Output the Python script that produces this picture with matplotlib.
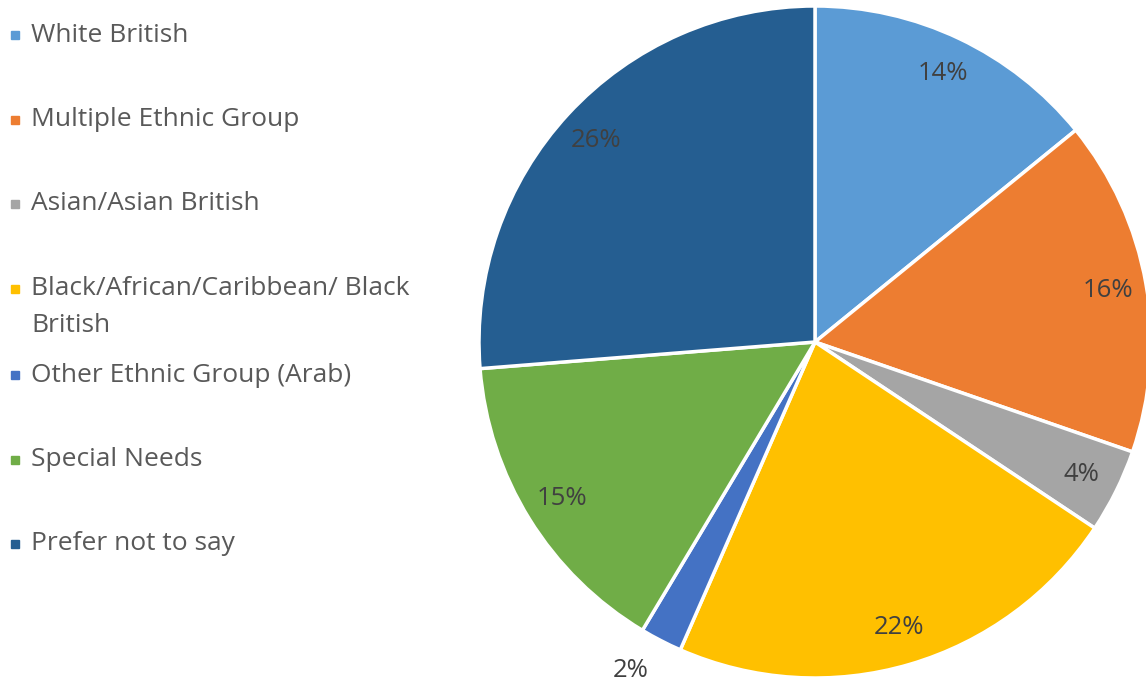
import numpy as np
import matplotlib.pyplot as plt
from matplotlib.patches import Rectangle

categories = ['White British', 'Multiple Ethnic Group', 'Asian/Asian British',
              'Black/African/Caribbean/ Black\nBritish', 'Other Ethnic Group (Arab)',
              'Special Needs', 'Prefer not to say']
values = [14, 16, 4, 22, 2, 15, 26]
colors = ['#5B9BD5', '#ED7D31', '#A5A5A5', '#FFC000', '#4472C4', '#70AD47', '#255E91']

W, H = 1146, 682
fig = plt.figure(figsize=(W / 100, H / 100), dpi=100)
ax = fig.add_axes([0, 0, 1, 1])

cx, cy, r = 815, H - 342, 336
wedges, _ = ax.pie(values, colors=colors, startangle=90, counterclock=False,
                   center=(cx, cy), radius=r,
                   wedgeprops=dict(edgecolor='white', linewidth=2.5))

# percentage labels
for w, v in zip(wedges, values):
    mid = (w.theta1 + w.theta2) / 2
    d = 0.885
    if v <= 3:  # tiny slice: label sits outside
        mid -= 2
        d = 1.12
    mid = np.deg2rad(mid)
    ax.text(cx + d * r * np.cos(mid), cy + d * r * np.sin(mid), f'{v}%',
            ha='center', va='center', fontsize=18.5, color='#404040', family='Open Sans')

ax.set_xlim(0, W)
ax.set_ylim(0, H)
ax.set_aspect('equal')
ax.axis('off')

# legend, drawn by hand (the wrapped entry pushes the rest down)
y = 35
for lab, c in zip(categories, colors):
    ax.add_patch(Rectangle((11, H - y - 4), 8, 8, color=c))
    for i, line in enumerate(lab.split('\n')):
        ax.text(31, H - y - 37 * i, line, ha='left', va='center',
                fontsize=19, color='#595959', family='Open Sans')
    y += 84.5 + (2 if '\n' in lab else 0)

fig.savefig('out.png', dpi=100)
